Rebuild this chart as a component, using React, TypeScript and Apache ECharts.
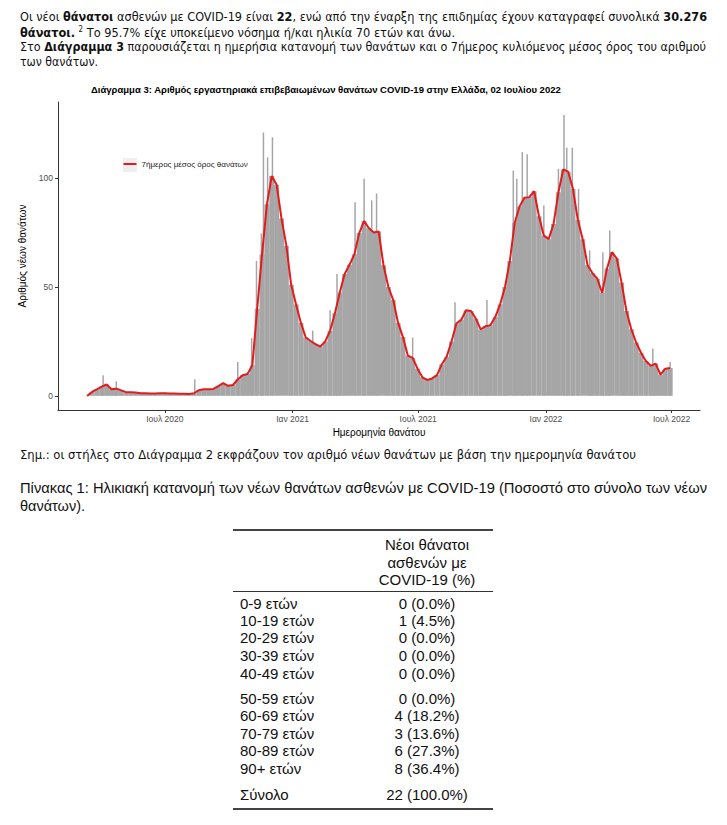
import React, { useEffect, useLayoutEffect, useRef } from 'react';
import * as echarts from 'echarts';

// ---------- chart texts ----------
const TITLE = 'Διάγραμμα 3: Αριθμός εργαστηριακά επιβεβαιωμένων θανάτων COVID-19 στην Ελλάδα, 02 Ιουλίου 2022';
const LEGEND_NAME = '7ήμερος μέσος όρος θανάτων';
const BAR_NAME = 'Θάνατοι ανά ημέρα';
const Y_NAME = 'Αριθμός νέων θανάτων';
const X_NAME = 'Ημερομηνία θανάτου';

// ---------- chart data ----------
// weekly readings of the 7-day rolling mean, first week starting 2020-03-11
const firstWeek = '2020-03-11';
const avg7 = [
  0, 1.8, 3, 4.2, 5.2, 3, 3.3, 2.5, 1.7, 1.6,
  1.5, 1.2, 1.2, 1.1, 1.1, 1.2, 1.2, 1.1, 1.1, 1.0,
  1.0, 0.9, 1.2, 2.6, 3, 3, 3.2, 4.5, 5.8, 4.6,
  5, 7.5, 9.5, 10, 14, 40, 65, 88, 101, 97,
  81.5, 69, 51, 42, 33.5, 26.8, 25.2, 23.8, 22.6, 25,
  29.8, 38, 47.5, 56, 60.2, 65, 74.8, 80.3, 77, 75,
  75.5, 60, 50, 44, 33.5, 27, 18.5, 17.4, 12.5, 8.5,
  7.3, 8, 9.5, 14.5, 18, 25, 33.2, 35, 39.3, 39,
  35.5, 30.5, 32, 32.5, 36.2, 42, 50, 62, 79.5, 87,
  91, 91.3, 94, 82.5, 73.6, 72, 79, 93.5, 104, 103,
  95, 80.8, 72, 60, 56.4, 53.8, 47.3, 58.5, 66, 63.2,
  52, 39, 30.6, 24.5, 19.8, 16, 13.8, 14.8, 9.8, 12.5,
  12.8,
];
// single-day peaks that stand out above the grey mass
const spikeDates = [
  '2020-04-03', '2020-04-22', '2020-08-13', '2020-10-14', '2020-11-03', '2020-11-10',
  '2020-11-17', '2020-11-20', '2020-11-26', '2020-12-03', '2021-01-30', '2021-02-24',
  '2021-03-06', '2021-04-01', '2021-04-14', '2021-04-25', '2021-05-02', '2021-06-23',
  '2021-08-23', '2021-10-08', '2021-11-06', '2021-11-15', '2021-11-20', '2021-11-28',
  '2021-12-05', '2021-12-29', '2022-01-19', '2022-01-27', '2022-01-31', '2022-02-08',
  '2022-02-17', '2022-03-05', '2022-03-24', '2022-04-03', '2022-06-04', '2022-06-29',
];
const spikeValues = [
  9.5, 6.7, 7.6, 15.6, 26.5, 62,
  74.6, 121, 109.6, 118.8, 30, 39.3,
  56, 89, 99.7, 89.8, 93, 26.8,
  43, 44, 55.4, 103.5, 99.7, 112,
  111, 87.5, 104.3, 129, 114, 114,
  95, 66.8, 66, 76, 21.7, 15.6,
];
const xTickDates = ['2020-07-01', '2021-01-01', '2021-07-01', '2022-01-01', '2022-07-01'];
const xTickLabels = ['Ιουλ 2020', 'Ιαν 2021', 'Ιουλ 2021', 'Ιαν 2022', 'Ιουλ 2022'];
const yTicks = [0, 50, 100];
const xMinDate = '2020-01-29';
const xMaxDate = '2022-08-11';

// ---------- table data ----------
const ageGroups = ['0-9 ετών', '10-19 ετών', '20-29 ετών', '30-39 ετών', '40-49 ετών', '50-59 ετών', '60-69 ετών', '70-79 ετών', '80-89 ετών', '90+ ετών'];
const deathCounts = [0, 1, 0, 0, 0, 0, 4, 3, 6, 8];
const deathPcts = ['0.0%', '4.5%', '0.0%', '0.0%', '0.0%', '0.0%', '18.2%', '13.6%', '27.3%', '36.4%'];
const totalLabel = 'Σύνολο';
const totalCount = 22;
const totalPct = '100.0%';
const headerLines = ['Νέοι θάνατοι', 'ασθενών με', 'COVID-19 (%)'];

// dates are turned into day numbers so the x axis can be a plain value axis
function dayNum(s: string): number {
  const [y, m, d] = s.split('-').map(Number);
  return Math.round(Date.UTC(y, m - 1, d) / 86400000);
}

const P_FONT = '"Liberation Sans Narrow", "DejaVu Sans Condensed", Roboto, "Noto Sans", sans-serif';
const TAB_FONT = '"Liberation Sans", Arial, sans-serif';
const C_FONT = '"Liberation Sans", Arial, sans-serif';

function FitLine(props: { left: number; top: number; width: number; fontSize: number; lh: number; font: string; children: React.ReactNode }) {
  const ref = useRef<HTMLDivElement>(null);
  useLayoutEffect(() => {
    const fit = () => {
      const el = ref.current;
      if (!el) return;
      el.style.transform = 'none';
      const w = el.getBoundingClientRect().width;
      if (w > 0) el.style.transform = `scaleX(${props.width / w})`;
    };
    fit();
    const f = (document as any).fonts;
    if (f && f.ready) f.ready.then(fit);
  }, [props.width]);
  return (
    <div
      ref={ref}
      style={{
        position: 'absolute',
        left: props.left,
        top: props.top,
        display: 'inline-block',
        whiteSpace: 'nowrap',
        transformOrigin: '0 0',
        fontFamily: props.font,
        fontSize: props.fontSize,
        lineHeight: props.lh + 'px',
        color: '#111',
      }}
    >
      {props.children}
    </div>
  );
}

function Chart() {
  const ref = useRef<HTMLDivElement>(null);
  useEffect(() => {
    if (!ref.current) return;
    const chart = echarts.init(ref.current, undefined, { renderer: 'svg' });
    const start = dayNum(firstWeek);
    const weekDays = avg7.map((_, i) => start + 7 * i);
    const tickDays = xTickDates.map(dayNum);
    const labelOf = (v: number) => {
      let best = 0;
      let bd = Infinity;
      tickDays.forEach((t, i) => {
        const dd = Math.abs(t - v);
        if (dd < bd) { bd = dd; best = i; }
      });
      return xTickLabels[best];
    };
    const axisColor = '#333333';
    const option: any = {
      animation: false,
      textStyle: { fontFamily: C_FONT },
      title: {
        text: TITLE,
        left: 91,
        top: 84,
        padding: 0,
        textStyle: { fontSize: 9.5, fontWeight: 'bold', color: '#000', fontFamily: C_FONT },
      },
      legend: {
        data: [{ name: LEGEND_NAME, icon: 'rect' }],
        left: 123.5,
        top: 160,
        padding: 0,
        itemWidth: 13,
        itemHeight: 2,
        textStyle: { fontSize: 8, color: '#1a1a1a', fontFamily: C_FONT },
      },
      graphic: [
        { type: 'rect', left: 123, top: 158, shape: { width: 14, height: 14 }, style: { fill: '#efefef' }, z: -10 },
      ],
      grid: { left: 58, right: 27, top: 102, height: 308 },
      xAxis: [
        {
          type: 'value',
          min: dayNum(xMinDate),
          max: dayNum(xMaxDate),
          name: X_NAME,
          nameLocation: 'middle',
          nameGap: 15,
          nameTextStyle: { fontSize: 10, color: '#000', fontFamily: C_FONT },
          axisLine: { show: true, onZero: false, lineStyle: { color: axisColor, width: 1 } },
          axisTick: { show: true, length: 3, customValues: tickDays, lineStyle: { color: axisColor } },
          axisLabel: { customValues: tickDays, formatter: (v: number) => labelOf(v), fontSize: 8.5, color: '#4d4d4d', margin: 4, fontFamily: C_FONT },
          splitLine: { show: false },
        },
        {
          type: 'value',
          min: dayNum(xMinDate),
          max: dayNum(xMaxDate),
          show: false,
        },
      ],
      yAxis: {
        type: 'value',
        min: -6.5,
        max: 135,
        name: Y_NAME,
        nameLocation: 'middle',
        nameGap: 23,
        nameRotate: 90,
        nameTextStyle: { fontSize: 10, color: '#000', fontFamily: C_FONT },
        axisLine: { show: true, onZero: false, lineStyle: { color: axisColor, width: 1 } },
        axisTick: { show: true, length: 3, customValues: yTicks, lineStyle: { color: axisColor } },
        axisLabel: { customValues: yTicks, fontSize: 8.5, color: '#4d4d4d', margin: 5, fontFamily: C_FONT },
        splitLine: { show: false },
      },
      series: [
        {
          name: BAR_NAME,
          type: 'bar',
          xAxisIndex: 0,
          data: weekDays.map((t, i) => [t, avg7[i]]),
          barWidth: 5,
          itemStyle: { color: '#a6a6a6' },
          z: 2,
        },
        {
          name: BAR_NAME + ' ',
          type: 'bar',
          xAxisIndex: 1,
          data: spikeDates.map((d, i) => [dayNum(d), spikeValues[i]]),
          barWidth: 1.5,
          itemStyle: { color: '#a6a6a6' },
          z: 2,
        },
        {
          name: LEGEND_NAME,
          type: 'line',
          xAxisIndex: 0,
          data: weekDays.map((t, i) => [t, avg7[i]]),
          showSymbol: false,
          symbol: 'none',
          lineStyle: { color: '#e41a1c', width: 2 },
          itemStyle: { color: '#e41a1c' },
          z: 5,
        },
      ],
    };
    chart.setOption(option);
    return () => chart.dispose();
  }, []);
  return <div ref={ref} style={{ position: 'absolute', left: 0, top: 0, width: 727, height: 445 }} />;
}

export default function App() {
  const rowCenters = [603.5, 620.8, 638.2, 655.8, 673.8, 699, 716.3, 734, 751, 768.5];
  const totalCenter = 795;
  const rowLh = 16;
  const valueCenterX = 427;
  const cell = (top: number): React.CSSProperties => ({ position: 'absolute', top: top - rowLh / 2, lineHeight: rowLh + 'px', fontFamily: TAB_FONT, fontSize: 15, color: '#111', whiteSpace: 'nowrap' });
  return (
    <div style={{ position: 'absolute', left: 0, top: 0, width: 727, height: 825, background: '#fff', overflow: 'hidden' }}>
      <Chart />
      <FitLine left={20} top={9.7} width={687} fontSize={13} lh={14} font={P_FONT}>
        Οι νέοι <b>θάνατοι</b> ασθενών με COVID-19 είναι <b>22</b>, ενώ από την έναρξη της επιδημίας έχουν καταγραφεί συνολικά <b>30.276</b>
      </FitLine>
      <FitLine left={20} top={25.7} width={435} fontSize={13} lh={14} font={P_FONT}>
        <b>θάνατοι.</b> <sup style={{ fontSize: 8, lineHeight: 0 }}>2</sup> Το 95.7% είχε υποκείμενο νόσημα ή/και ηλικία 70 ετών και άνω.
      </FitLine>
      <FitLine left={20} top={40.3} width={686} fontSize={13} lh={14} font={P_FONT}>
        Στο <b>Διάγραμμα 3</b> παρουσιάζεται η ημερήσια κατανομή των θανάτων και ο 7ήμερος κυλιόμενος μέσος όρος του αριθμού
      </FitLine>
      <FitLine left={20} top={54.5} width={78} fontSize={13} lh={14} font={P_FONT}>
        των θανάτων.
      </FitLine>
      <FitLine left={20} top={448} width={616} fontSize={13} lh={14} font={P_FONT}>
        Σημ.: οι στήλες στο Διάγραμμα 2 εκφράζουν τον αριθμό νέων θανάτων με βάση την ημερομηνία θανάτου
      </FitLine>
      <FitLine left={20} top={478.7} width={687} fontSize={15} lh={17} font={TAB_FONT}>
        Πίνακας 1: Ηλικιακή κατανομή των νέων θανάτων ασθενών με COVID-19 (Ποσοστό στο σύνολο των νέων
      </FitLine>
      <FitLine left={20} top={496.5} width={65} fontSize={15} lh={17} font={TAB_FONT}>
        θανάτων).
      </FitLine>
      <div style={{ position: 'absolute', left: 233, top: 529, width: 260, height: 2, background: '#444' }} />
      <div style={{ position: 'absolute', left: 233, top: 590.5, width: 260, height: 1.5, background: '#333' }} />
      <div style={{ position: 'absolute', left: 233, top: 807.5, width: 260, height: 2, background: '#444' }} />
      {headerLines.map((h, i) => (
        <div key={'h' + i} style={{ ...cell([545, 562.5, 579.5][i]), left: valueCenterX - 60, width: 120, textAlign: 'center' }}>{h}</div>
      ))}
      {ageGroups.map((g, i) => (
        <React.Fragment key={g}>
          <div style={{ ...cell(rowCenters[i]), left: 240 }}>{g}</div>
          <div style={{ ...cell(rowCenters[i]), left: valueCenterX - 40, width: 80, textAlign: 'center' }}>{`${deathCounts[i]} (${deathPcts[i]})`}</div>
        </React.Fragment>
      ))}
      <div style={{ ...cell(totalCenter), left: 240 }}>{totalLabel}</div>
      <div style={{ ...cell(totalCenter), left: valueCenterX - 45, width: 90, textAlign: 'center' }}>{`${totalCount} (${totalPct})`}</div>
    </div>
  );
}
